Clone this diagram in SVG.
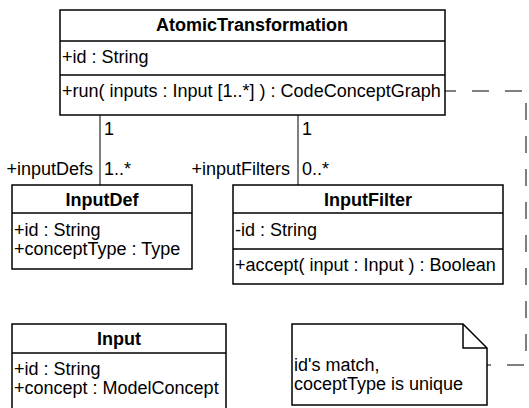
<svg xmlns="http://www.w3.org/2000/svg" width="529" height="408" viewBox="0 0 529 408">
<style>
text{font-family:"Liberation Sans",Arial,sans-serif;font-size:18px;fill:#000}
.t{font-weight:bold;text-anchor:middle}
.box{fill:#fff;stroke:#000;stroke-width:1.5}
.div{stroke:#000;stroke-width:1.5}
.c{stroke:#000;stroke-width:1;fill:none}
.d{stroke:#555;stroke-width:1.5;fill:none;stroke-dasharray:17 16;stroke-dashoffset:6}
.r{text-anchor:end}
</style>
<rect width="529" height="408" fill="#fff"/>
<g id="connectors">
<path class="c" d="M100,115V185"/>
<path class="c" d="M298,115V185"/>
<path class="d" d="M445,91H526V365H487"/>
<text x="104" y="135">1</text>
<text x="104" y="175">1..*</text>
<text class="r" x="93" y="175">+inputDefs</text>
<text x="302" y="135">1</text>
<text x="302" y="175">0..*</text>
<text class="r" x="290" y="175">+inputFilters</text>
</g>
<g id="AtomicTransformation">
<rect class="box" x="60" y="10" width="385" height="105"/>
<path class="div" d="M60,41H445M60,75H445"/>
<text class="t" x="252" y="31">AtomicTransformation</text>
<text x="62" y="63">+id : String</text>
<text x="62" y="97">+run( inputs : Input [1..*] ) : CodeConceptGraph</text>
</g>
<g id="InputDef">
<rect class="box" x="12" y="185" width="180" height="84"/>
<path class="div" d="M12,213H192"/>
<text class="t" x="102" y="206">InputDef</text>
<text x="14" y="236">+id : String</text>
<text x="14" y="255">+conceptType : Type</text>
</g>
<g id="InputFilter">
<rect class="box" x="233" y="185" width="270" height="99"/>
<path class="div" d="M233,213H503M233,249H503"/>
<text class="t" x="368" y="206">InputFilter</text>
<text x="235" y="236">-id : String</text>
<text x="235" y="271">+accept( input : Input ) : Boolean</text>
</g>
<g id="Input">
<rect class="box" x="12" y="324" width="214" height="90"/>
<path class="div" d="M12,353H226"/>
<text class="t" x="119" y="345">Input</text>
<text x="14" y="375">+id : String</text>
<text x="14" y="394">+concept : ModelConcept</text>
</g>
<g id="note">
<path class="box" d="M292,324H463L487,348V405H292Z"/>
<path class="c" d="M463,324V348H487" style="stroke-width:1.5"/>
<text x="294" y="371">id's match,</text>
<text x="294" y="390">coceptType is unique</text>
</g>
</svg>
